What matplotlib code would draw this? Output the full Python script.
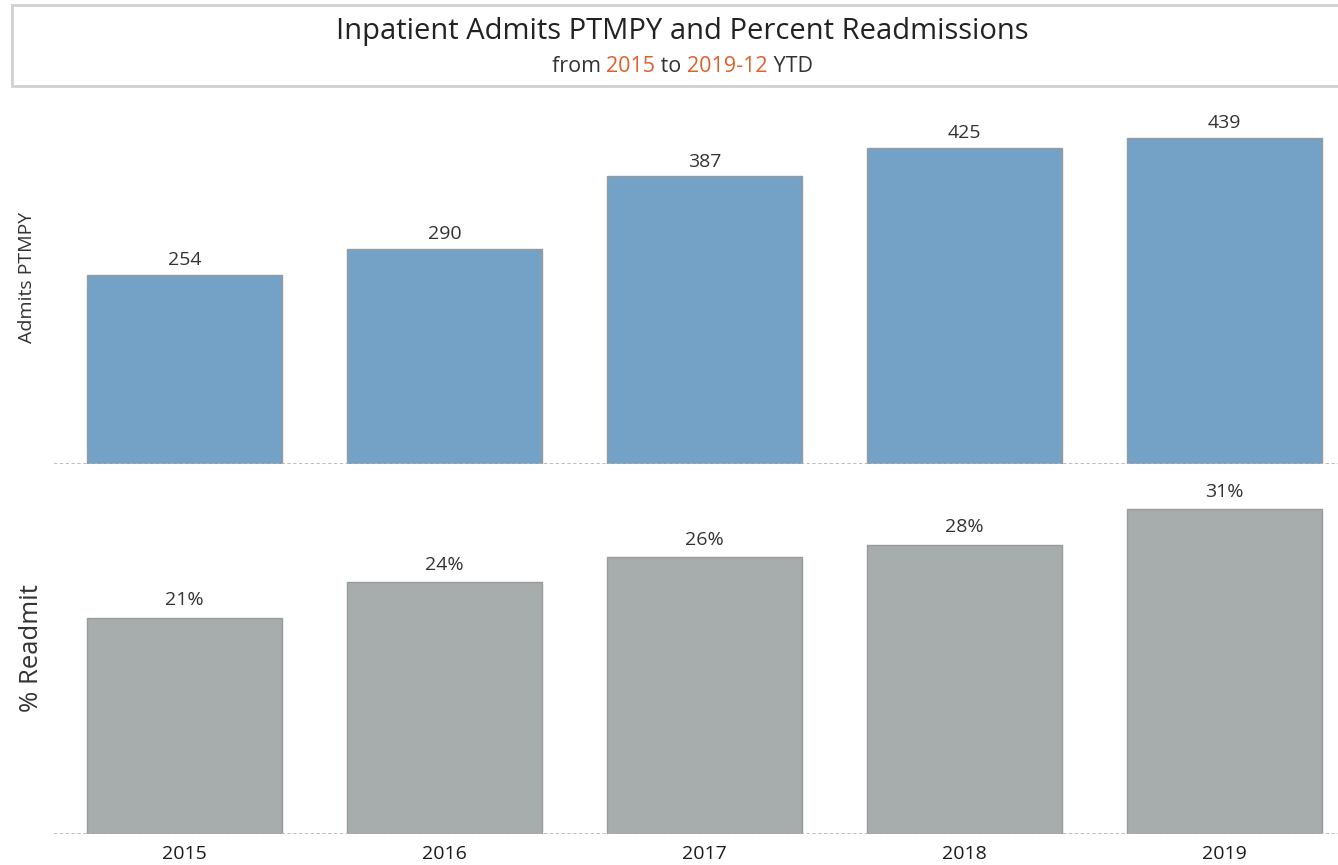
import matplotlib.pyplot as plt
from matplotlib.patches import Rectangle

years = ['2015', '2016', '2017', '2018', '2019']
admits = [254, 290, 387, 425, 439]
readmit_pct = [20.7, 24.1, 26.5, 27.7, 31.1]
readmit_labels = ['21%', '24%', '26%', '28%', '31%']

blue = '#74a1c6'
grey = '#a7acac'
edge = '#9a9a9a'
txt = '#333333'
orange = '#e0602a'

plt.rcParams['font.family'] = ['Open Sans', 'DejaVu Sans']

W, H = 1338, 865
fig = plt.figure(figsize=(W / 100, H / 100), dpi=100)

# title box
fig.patches.append(Rectangle((12 / W, 1 - 86 / H), 1.0, 81 / H, transform=fig.transFigure,
                             facecolor='white', edgecolor='#d0d0d0', linewidth=2))
fig.text(682 / W, 1 - 32 / H, 'Inpatient Admits PTMPY and Percent Readmissions',
         ha='center', va='center', fontsize=21, color='#222222')

# subtitle with coloured parts
parts = [('from ', txt), ('2015', orange), (' to ', txt), ('2019-12', orange), (' YTD', txt)]
texts = [fig.text(0, 1 - 66 / H, s, color=c, fontsize=15.5, va='center') for s, c in parts]
fig.canvas.draw()
r = fig.canvas.get_renderer()
widths = [t.get_window_extent(r).width for t in texts]
x = 682 - sum(widths) / 2
for t, w in zip(texts, widths):
    t.set_x(x / W)
    x += w

left = 54.5 / W
xmax = (W - 184.5) / 260
xpos = range(len(years))

# top panel
ax1 = fig.add_axes([left, 1 - 464 / H, 1 - left, 369 / H])
ax1.bar(xpos, admits, width=0.75, color=blue, edgecolor=edge, linewidth=1)
for i, v in enumerate(admits):
    ax1.text(i, v + 8, str(v), ha='center', va='bottom', fontsize=14, color=txt)
ax1.set_xlim(-0.5, xmax)
ax1.set_ylim(0, 369 / 0.743)
ax1.axhline(0, color='#b0b0b0', linestyle=(0, (2, 1.5)), linewidth=1.2)
ax1.set_xticks([])
ax1.set_yticks([])
for s in ax1.spines.values():
    s.set_visible(False)
fig.text(27 / W, 1 - 277 / H, 'Admits PTMPY', rotation=90, ha='center', va='center',
         fontsize=14, color=txt)

# bottom panel
ax2 = fig.add_axes([left, 1 - 834 / H, 1 - left, 362 / H])
ax2.bar(xpos, readmit_pct, width=0.75, color=grey, edgecolor=edge, linewidth=1)
for i, v in enumerate(readmit_pct):
    ax2.text(i, v + 0.8, readmit_labels[i], ha='center', va='bottom', fontsize=14, color=txt)
ax2.set_xlim(-0.5, xmax)
ax2.set_ylim(0, 362 / 10.45)
ax2.axhline(0, color='#b0b0b0', linestyle=(0, (2, 1.5)), linewidth=1.2)
ax2.set_yticks([])
ax2.set_xticks(list(xpos))
ax2.set_xticklabels(years, fontsize=14, color='#1a1a1a')
ax2.tick_params(axis='x', length=0, pad=8)
for s in ax2.spines.values():
    s.set_visible(False)
fig.text(31 / W, 1 - 648 / H, '% Readmit', rotation=90, ha='center', va='center',
         fontsize=18.5, color=txt)

fig.savefig('out.png', dpi=100)
